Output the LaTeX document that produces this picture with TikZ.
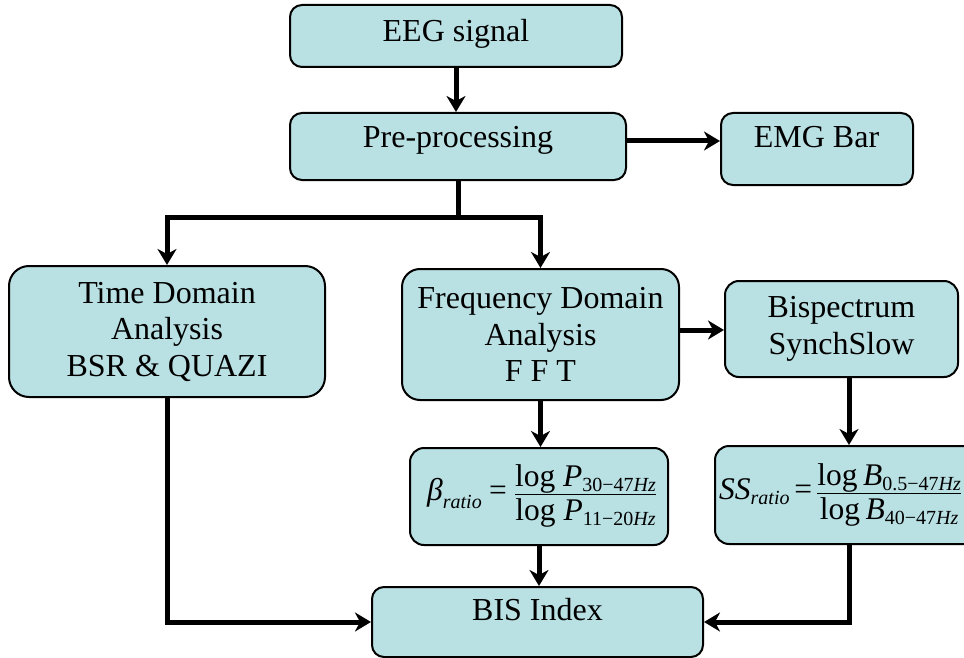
\documentclass[tikz,border=0pt]{standalone}
\usepackage{amsmath}
\usepackage{fontspec}
\setmainfont{Liberation Serif}
\usetikzlibrary{arrows.meta}
\definecolor{boxfill}{RGB}{185,224,227}
\DeclareMathSizes{31.5}{31.5}{20}{15}
\newcommand{\tx}[1]{\text{#1}}
\newcommand{\ti}[1]{\text{\itshape #1}}
% numerator set close to the bar, denominator a little lower
\newcommand{\ratiofrac}[2]{\dfrac{\smash[b]{\raisebox{-3pt}{$\displaystyle #1$}}}{\raisebox{-3pt}{$\displaystyle #2$}}}

\begin{document}
\begin{tikzpicture}[x=1pt,y=-1pt,
  box/.style={draw=black, line width=2pt, fill=boxfill, rounded corners=#1,
              inner sep=0pt, align=center,
              font=\fontsize{32}{36.5}\selectfont},
  box/.default=12pt,
  lbl/.style={font=\fontsize{32}{36.5}\selectfont, inner sep=0pt, anchor=base},
  eqn/.style={font=\fontsize{31.5}{36}\selectfont, inner sep=0pt},
  wire/.style={line width=5pt},
  flow/.style={wire, -{Stealth[length=16pt,width=19pt,inset=5pt]}},
]
\useasboundingbox (0,0) rectangle (964,658);

% boxes
\node[box, minimum width=332pt, minimum height=62pt]  (eeg)  at (456,36)    {};
\node[box, minimum width=336pt, minimum height=67pt]  (pre)  at (458,146.5) {};
\node[box, minimum width=192pt, minimum height=72pt]  (emg)  at (817,149)   {};
\node[box=20pt, minimum width=316pt, minimum height=131pt] (time) at (167,331.5)
  {Time Domain\\Analysis\\BSR \& QUAZI};
\node[box=18pt, minimum width=277pt, minimum height=131pt] (freq) at (540.5,334.5)
  {Frequency Domain\\Analysis\\F F T};
\node[box=14pt, minimum width=233pt, minimum height=96pt]  (bisp) at (841.5,329)
  {Bispectrum\\SynchSlow};
\node[box=14pt, minimum width=258pt, minimum height=97pt]  (beta) at (539,496.5) {};
\node[box=14pt, minimum width=270pt, minimum height=98pt]  (ss)   at (850,495)   {};
\node[box, minimum width=331pt, minimum height=70pt]  (bis)  at (537.5,622) {};

% captions
\node[lbl] (eegtxt) at (456,42)    {EEG signal};
\node[lbl] (pretxt) at (458,148)   {Pre-processing};
\node[lbl] (emgtxt) at (816.5,148) {EMG Bar};
\node[lbl] (bistxt) at (537.5,620) {BIS Index};

% ratio formulas
\node[eqn, anchor=west] (betaeq) at (427,496)
  {$\ti{β}_{\ti{ratio}} \mathrel{\tx{=}} \ratiofrac{\tx{log }\ti{P}_{\tx{30−47}\ti{Hz}}}{\tx{log }\ti{P}_{\tx{11−20}\ti{Hz}}}$};
\node[eqn, anchor=west] (sseq) at (719,495)
  {$\ti{SS}_{\ti{ratio}} \,\tx{=}\, \ratiofrac{\tx{log}\mkern4mu\ti{B}_{\tx{0.5−47}\ti{Hz}}}{\tx{log}\mkern4mu\ti{B}_{\tx{40−47}\ti{Hz}}}$};

% routing points
\coordinate (split) at (458,217);
\coordinate (rowA)  at (0,141);
\coordinate (rowB)  at (0,330);
\coordinate (colS)  at (849,0);

% connectors
\draw[flow] (eeg.south) -- (eeg.south |- pre.north);
\draw[flow] (pre.east |- rowA) -- (emg.west |- rowA);
\draw[wire] (pre.south) -- (split);
\draw[flow] (split) -| (time.north);
\draw[flow] (split) -| (freq.north);
\draw[flow] (freq.east |- rowB) -- (bisp.west |- rowB);
\draw[flow] (freq.south) -- (freq.south |- beta.north);
\draw[flow] (bisp.south -| colS) -- (ss.north -| colS);
\draw[flow] (beta.south) -- (beta.south |- bis.north);
\draw[flow] (time.south) |- (bis.west);
\draw[flow] (ss.south -| colS) |- (bis.east);
\end{tikzpicture}
\end{document}
